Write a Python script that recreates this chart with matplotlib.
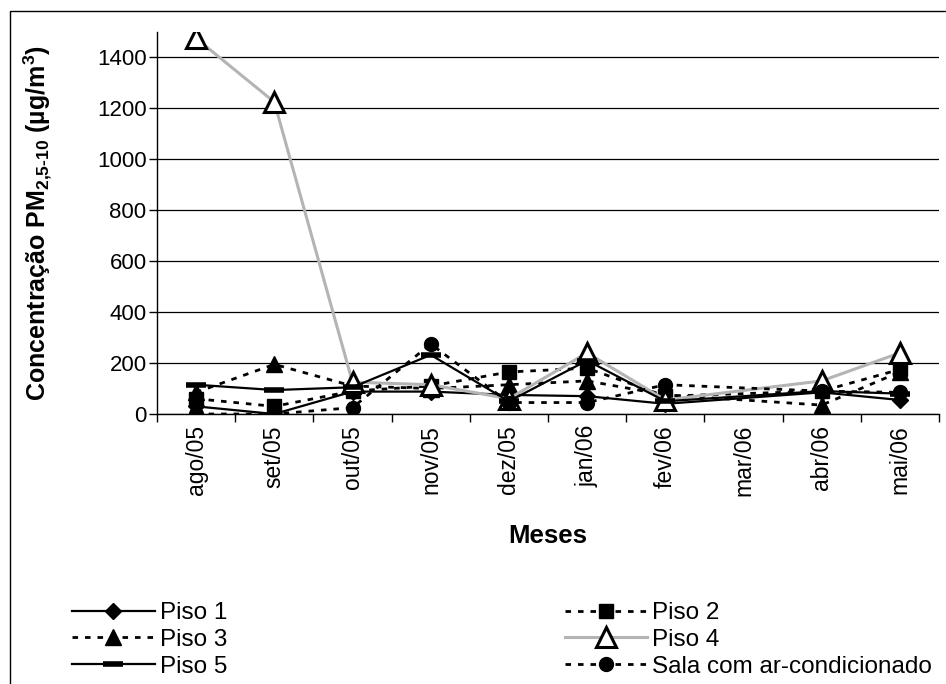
import matplotlib
matplotlib.use("Agg")
import matplotlib.pyplot as plt
import numpy as np
from matplotlib.patches import Rectangle

plt.rcParams['font.family'] = ['Liberation Sans', 'DejaVu Sans']
plt.rcParams['mathtext.fontset'] = 'custom'
plt.rcParams['mathtext.rm'] = 'Liberation Sans:bold'
plt.rcParams['mathtext.bf'] = 'Liberation Sans:bold'
plt.rcParams['mathtext.it'] = 'Liberation Sans:bold'

# dados (mar/06 sem medição)
meses = ['ago/05', 'set/05', 'out/05', 'nov/05', 'dez/05',
         'jan/06', 'fev/06', 'mar/06', 'abr/06', 'mai/06']
piso1 = [30, 0, 88, 88, 75, 70, 40, None, 85, 55]
piso2 = [60, 30, 90, 110, 165, 180, 70, None, 90, 175]
piso3 = [85, 195, 110, 100, 115, 130, 75, None, 35, 165]
piso4 = [1475, 1225, 125, 115, 60, 240, 55, None, 130, 240]
piso5 = [115, 94, 105, 232, 50, 210, 50, None, 90, 80]
sala = [0, 0, 25, 275, 45, 45, 115, None, 90, 85]

series = [
    ('Piso 1', piso1, dict(color='black', lw=1.6, ls='-', marker='D', ms=8,
                           mfc='black', mec='black')),
    ('Piso 2', piso2, dict(color='black', lw=2, dashes=(2, 2.5), marker='s', ms=10,
                           mfc='black', mec='black')),
    ('Piso 3', piso3, dict(color='black', lw=2, dashes=(2, 2.5), marker='^', ms=11,
                           mfc='black', mec='black')),
    ('Piso 4', piso4, dict(color='#b4b4b4', lw=2.2, ls='-', marker='^', ms=15,
                           mfc='white', mec='black', mew=2.2)),
    ('Piso 5', piso5, dict(color='black', lw=1.6, ls='-', marker='_', ms=14,
                           mfc='black', mec='black', mew=4)),
    ('Sala com ar-condicionado', sala, dict(color='black', lw=2, dashes=(2, 2.5), marker='o',
                                            ms=10, mfc='black', mec='black')),
]

fig = plt.figure(figsize=(9.46, 6.84), dpi=100)
ax = fig.add_axes([157 / 946, 1 - 414 / 684, (939 - 157) / 946, (414 - 32) / 684])

x = np.arange(len(meses))
lines = {}
for nome, vals, st in series:
    v = np.array([np.nan if a is None else a for a in vals], dtype=float)
    ok = ~np.isnan(v)
    ln, = ax.plot(x[ok], v[ok], label=nome, **st)
    lines[nome] = ln

ax.set_xlim(-0.5, len(meses) - 0.5)
ax.set_ylim(0, 1500)
ax.set_yticks(np.arange(0, 1401, 200))
ax.yaxis.grid(True, color='black', lw=0.9)
ax.set_axisbelow(True)
for s in ['top', 'right']:
    ax.spines[s].set_visible(False)
ax.spines['left'].set_linewidth(1)
ax.spines['bottom'].set_linewidth(1)

ax.set_xticks(x)
ax.set_xticklabels(meses, rotation=90)
ax.set_xticks(np.arange(-0.5, len(meses)), minor=True)
ax.tick_params(axis='x', which='major', length=0, pad=8, labelsize=16.5)
ax.tick_params(axis='x', which='minor', length=6, width=1, direction='out')
ax.tick_params(axis='y', length=6, width=1, pad=1.5, labelsize=16)

ax.set_xlabel('Meses', fontsize=18.5, fontweight='bold', labelpad=20)
ax.set_ylabel(r'Concentração PM$_{2{,}5\text{-}10}$ (µg/m$^{3}$)', fontsize=18,
              fontweight='bold')
ax.yaxis.set_label_coords(-0.132, 0.5)

ordem = ['Piso 1', 'Piso 3', 'Piso 5', 'Piso 2', 'Piso 4', 'Sala com ar-condicionado']
fig.legend([lines[n] for n in ordem], ordem, ncol=2, loc='upper left',
           bbox_to_anchor=(72 / 946, 1 - 602 / 684), frameon=False, fontsize=17.5,
           numpoints=1, handlelength=3.4, handletextpad=0.2, columnspacing=13.9,
           labelspacing=0.2, borderpad=0, borderaxespad=0)

fig.patches.append(Rectangle((9.5 / 946, -0.5), 2, 0.5 + 1 - 11 / 684,
                             transform=fig.transFigure, fill=False, lw=1,
                             edgecolor='black'))

fig.savefig('out.png', dpi=100)
